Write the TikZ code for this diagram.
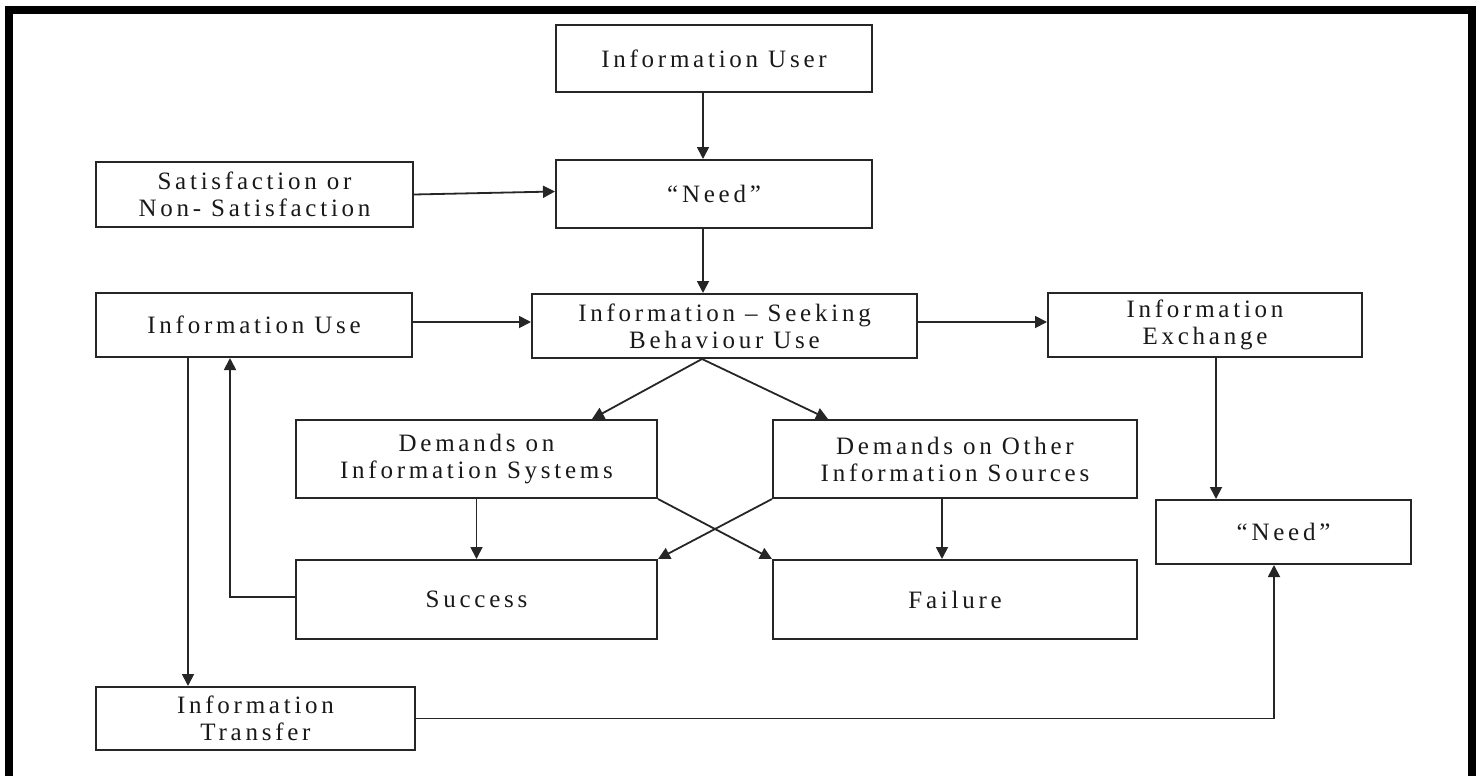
\documentclass[tikz,border=0pt]{standalone}
\usepackage{fontspec}
\setmainfont{Liberation Serif}[LetterSpace=15]
\usetikzlibrary{arrows.meta}
\begin{document}
\begin{tikzpicture}[x=1pt,y=-1pt,
  box/.style={draw=black!85, line width=2pt, inner sep=0pt, align=center,
    text=black!90, font=\fontsize{25}{27}\selectfont},
  arr/.style={draw=black!85, line width=1.8pt,
    -{Triangle[length=12pt,width=12pt]}},
  frame/.style={line width=7.5pt, line join=miter}]
\useasboundingbox (0,0) rectangle (1481,776);
% outer frame, open at the bottom edge of the page
\draw[frame] (9,790) -- (9,10) -- (1472,10) -- (1472,790);

% boxes
\node[box, minimum width=316pt, minimum height=67pt] (user)  at (714,58.5)   {Information User};
\node[box, minimum width=316pt, minimum height=68pt] (need1) at (714,194)    {“Need”};
\node[box, minimum width=317pt, minimum height=65pt] (sat)   at (254.5,194.5){Satisfaction or\\Non- Satisfaction};
\node[box, minimum width=316pt, minimum height=64pt] (use)   at (254,325)    {Information Use};
\node[box, minimum width=385pt, minimum height=64pt] (isb)   at (724.5,326)  {Information – Seeking\\Behaviour Use};
\node[box, minimum width=314pt, minimum height=64pt] (exch)  at (1205,325)   {Information\\Exchange};
\node[box, minimum width=361pt, minimum height=78pt] (dis)   at (476.5,459)  {Demands on\\Information Systems};
\node[box, minimum width=364pt, minimum height=78pt] (dois)  at (955,459)    {Demands on Other\\Information Sources};
\node[box, minimum width=361pt, minimum height=79pt] (succ)  at (476.5,599.5){Success};
\node[box, minimum width=364pt, minimum height=79pt] (fail)  at (955,599.5)  {Failure};
\node[box, minimum width=255pt, minimum height=64pt] (need2) at (1283.5,532) {“Need”};
\node[box, minimum width=319pt, minimum height=63pt] (trans) at (255.5,718.5){Information\\Transfer};

% connectors
\draw[arr] ([xshift=-11pt]user.south) -- ([xshift=-11pt]need1.north);
\draw[arr] (sat.east) -- ([yshift=2.5pt]need1.west);
\draw[arr] ([xshift=-11pt]need1.south) -- ([xshift=-11pt]need1.south |- isb.north);
\draw[arr] ([yshift=3pt]use.east) -- ([yshift=3pt]use.east -| isb.west);
\draw[arr] ([yshift=4pt]isb.east) -- ([yshift=4pt]isb.east -| exch.west);
\draw[arr] ([xshift=-22.5pt]isb.south) -- ([xshift=115.5pt]dis.north);
\draw[arr] ([xshift=-22.5pt]isb.south) -- ([xshift=-127pt]dois.north);
\draw[arr] (dis.south) -- (succ.north);
\draw[arr] ([xshift=-13pt]dois.south) -- ([xshift=-13pt]fail.north);
\draw[arr] (dis.south east) -- (fail.north west);
\draw[arr] (dois.south west) -- (succ.north east);
\draw[arr] ([yshift=2.5pt]succ.west) -| ([xshift=-24pt]use.south);
\draw[arr] ([xshift=-66pt]use.south) -- ([xshift=-66pt]use.south |- trans.north);
\draw[arr] (trans.east) -| ([xshift=-9.5pt]need2.south);
\draw[arr] ([xshift=11pt]exch.south) -- ([xshift=11pt]exch.south |- need2.north);
\end{tikzpicture}
\end{document}
